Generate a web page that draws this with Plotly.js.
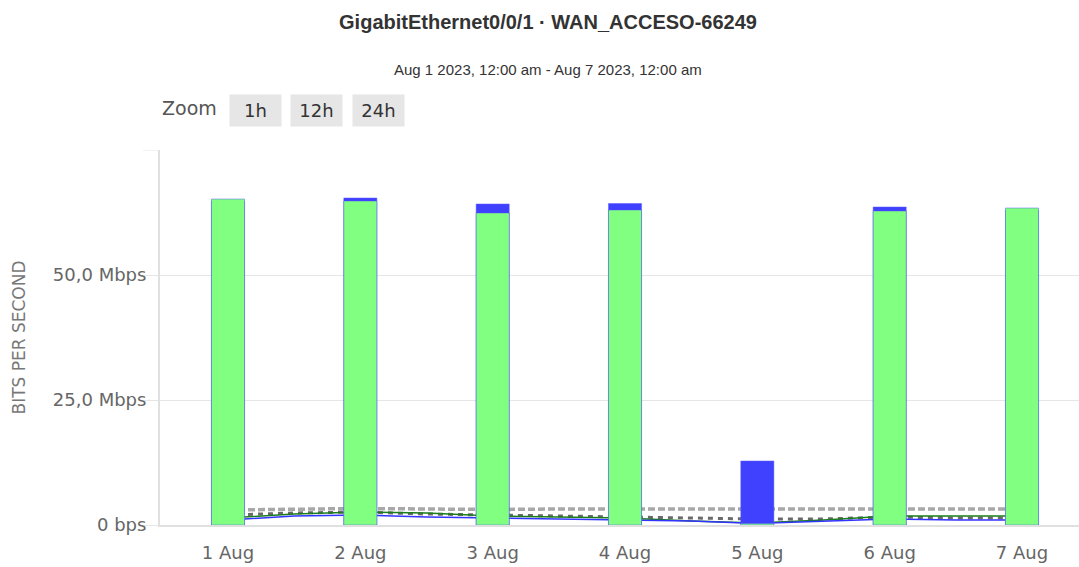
<!DOCTYPE html>
<html>
<head>
<meta charset="utf-8">
<script src="https://cdn.plot.ly/plotly-3.0.1.min.js"></script>
<style>
  html, body { margin: 0; padding: 0; background: #fff; }
  #chart { width: 1079px; height: 567px; }
</style>
</head>
<body>
<div id="chart"></div>
<script>
// daily samples (bars), values in Mbps
const days = ['2023-08-01', '2023-08-02', '2023-08-03', '2023-08-04', '2023-08-05', '2023-08-06', '2023-08-07'];
const inMbps = [64.8, 65.4, 64.2, 64.3, 12.8, 63.6, 63.0];
const outMbps = [65.2, 64.8, 62.4, 63.0, 0.3, 62.8, 63.4];

// half-day samples for the lines near the bottom
const lineTimes = [
  '2023-08-01 00:00', '2023-08-01 12:00', '2023-08-02 00:00', '2023-08-02 12:00',
  '2023-08-03 00:00', '2023-08-03 12:00', '2023-08-04 00:00', '2023-08-04 12:00',
  '2023-08-05 00:00', '2023-08-05 12:00', '2023-08-06 00:00', '2023-08-06 12:00',
  '2023-08-07 00:00'
];
const in95th = [3.0, 3.2, 3.3, 3.2, 3.1, 3.2, 3.2, 3.1, 3.2, 3.2, 3.1, 3.2, 3.2];
const outAvg = [2.0, 2.4, 2.6, 2.2, 2.0, 1.8, 1.6, 1.4, 1.2, 1.2, 1.6, 1.4, 1.4];
const outLine = [1.4, 2.2, 2.6, 2.4, 1.8, 1.6, 1.4, 0.8, 0.4, 1.0, 1.8, 1.8, 1.8];
const inLine = [1.0, 1.8, 2.0, 1.6, 1.4, 1.2, 1.0, 0.8, 0.3, 0.8, 1.2, 1.0, 1.0];

const yTicks = [0, 25, 50];
const yTickText = ['0 bps', '25,0 Mbps', '50,0 Mbps'];

const zoomButtons = ['1h', '12h', '24h'];

const tickFont = { family: 'DejaVu Sans', size: 18, color: '#666' };

// lines live on x/y, bars on the overlaid x2/y2 so the bars cover them
const lineTraces = [
  { y: in95th, color: '#a8a8a8', width: 3.5, dash: '7px,3px' },
  { y: outAvg, color: '#6a6a6a', width: 3, dash: '5px,5px' },
  { y: outLine, color: '#1b7d1b', width: 1.5, dash: 'solid' },
  { y: inLine, color: '#3434ff', width: 1.5, dash: 'solid' }
].map(l => ({
  type: 'scatter',
  mode: 'lines',
  x: lineTimes,
  y: l.y,
  line: { color: l.color, width: l.width, dash: l.dash },
  hoverinfo: 'skip'
}));

const barWidth = 6 * 3600 * 1000;

const barTraces = [
  {
    type: 'bar', name: 'In', x: days, y: inMbps, width: barWidth,
    xaxis: 'x2', yaxis: 'y2',
    marker: { color: '#4040ff', line: { color: 'rgba(90,90,255,0.5)', width: 1 } }
  },
  {
    type: 'bar', name: 'Out', x: days, y: outMbps, width: barWidth,
    xaxis: 'x2', yaxis: 'y2',
    marker: { color: '#80ff80', line: { color: 'rgba(80,80,255,0.45)', width: 1 } }
  }
];

const xRange = ['2023-07-31 11:40', '2023-08-07 10:20'];
const yRange = [0, 75];

const plotW = 1079 - 160;
const plotH = 375;
const px = v => (v - 160) / plotW;   // pixel -> paper x
const py = v => (525 - v) / plotH;   // pixel -> paper y

const buttonCenters = [255, 316.5, 378.5];
const annotations = [
  {
    text: 'Aug 1 2023, 12:00 am - Aug 7 2023, 12:00 am',
    xref: 'paper', yref: 'paper', x: px(548), y: py(70),
    xanchor: 'center', yanchor: 'middle',
    showarrow: false, font: { family: 'Liberation Sans', size: 15, color: '#333' }
  },
  {
    text: 'Zoom',
    xref: 'paper', yref: 'paper', x: px(160), y: py(108),
    xanchor: 'left', yanchor: 'middle',
    showarrow: false, font: { family: 'DejaVu Sans', size: 19, color: '#555' }
  }
];
zoomButtons.forEach((label, i) => {
  annotations.push({
    text: label,
    xref: 'paper', yref: 'paper', x: px(buttonCenters[i]), y: py(111),
    xanchor: 'center', yanchor: 'middle',
    showarrow: false, width: 49, height: 29, bgcolor: '#e6e6e6',
    font: { family: 'DejaVu Sans', size: 18, color: '#333' }
  });
});

const layout = {
  width: 1079,
  height: 567,
  margin: { l: 160, r: 0, t: 150, b: 42 },
  paper_bgcolor: '#fff',
  plot_bgcolor: '#fff',
  showlegend: false,
  barmode: 'overlay',
  hovermode: false,
  title: {
    text: 'GigabitEthernet0/0/1 · WAN_ACCESO-66249',
    x: 548 / 1079, xref: 'container', xanchor: 'center',
    y: 1 - 22 / 567, yanchor: 'middle',
    font: { family: 'Liberation Sans', size: 20, color: '#333', weight: 'bold' }
  },
  xaxis: {
    type: 'date',
    range: xRange,
    tickvals: days,
    tickformat: '%-d %b',
    ticks: '',
    ticklabelstandoff: 10,
    showgrid: false,
    zeroline: false,
    showline: true,
    linecolor: '#e0e0e0',
    linewidth: 2,
    tickfont: tickFont
  },
  yaxis: {
    range: yRange,
    tickvals: yTicks,
    ticktext: yTickText,
    ticks: 'outside',
    ticklen: 17,
    tickcolor: '#e6e6e6',
    tickwidth: 1,
    ticklabelstandoff: -9,
    showgrid: true,
    gridcolor: '#e6e6e6',
    zeroline: false,
    showline: true,
    linecolor: '#e0e0e0',
    linewidth: 2,
    tickfont: tickFont,
    title: {
      text: 'BITS PER SECOND',
      standoff: 23,
      font: { family: 'DejaVu Sans', size: 17, color: '#777' }
    }
  },
  xaxis2: { type: 'date', overlaying: 'x', matches: 'x', range: xRange, visible: false },
  yaxis2: { overlaying: 'y', range: yRange, visible: false },
  shapes: [
    {
      type: 'line', xref: 'paper', yref: 'y',
      x0: -17 / plotW, x1: 0, y0: 75, y1: 75,
      line: { color: '#e6e6e6', width: 1 }
    }
  ],
  annotations: annotations
};

Plotly.newPlot('chart', [...lineTraces, ...barTraces], layout, {
  displayModeBar: false,
  staticPlot: true
});
</script>
</body>
</html>
